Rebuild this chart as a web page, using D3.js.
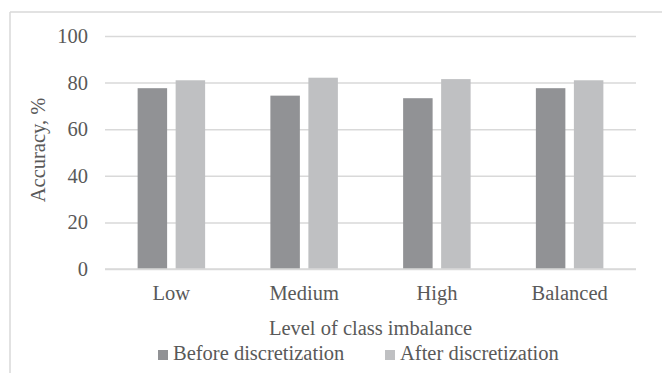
<!DOCTYPE html>
<html>
<head>
<meta charset="utf-8">
<script src="https://cdn.jsdelivr.net/npm/d3@7"></script>
<style>
  html, body { margin: 0; padding: 0; background: #fff; }
</style>
</head>
<body>
<svg id="chart" width="662" height="373"></svg>
<script>
// Accuracy by level of class imbalance
const categories = ["Low", "Medium", "High", "Balanced"];
const seriesNames = ["Before discretization", "After discretization"];
const beforeValues = [77.6, 74.4, 73.3, 77.6];
const afterValues = [81.0, 82.1, 81.5, 81.0];
const yTicks = [0, 20, 40, 60, 80, 100];
const seriesColors = ["#919295", "#bfc0c2"];

const FONT = "'Liberation Serif', 'Times New Roman', serif";
const FONT_SIZE = "20.5px";
const svg = d3.select("#chart");
const textColor = "#595959";
const gridColor = "#d9d9d9";

// Outer chart frame (top and left edges visible)
svg.append("line").attr("x1", 10).attr("x2", 662).attr("y1", 12).attr("y2", 12)
  .attr("stroke", gridColor).attr("stroke-width", 1.5);
svg.append("line").attr("x1", 10).attr("x2", 10).attr("y1", 12).attr("y2", 373)
  .attr("stroke", gridColor).attr("stroke-width", 1.5);

const plot = { left: 105, right: 636, top: 36, bottom: 269 };

const x0 = d3.scaleBand().domain(categories).range([plot.left, plot.right]);
const groupWidth = 67.5;
const groupOffset = (x0.bandwidth() - groupWidth) / 2;
const x1 = d3.scaleBand().domain(seriesNames)
  .range([groupOffset, groupOffset + groupWidth]).paddingInner(0.224);
const y = d3.scaleLinear().domain([0, 100]).range([plot.bottom, plot.top]);

// Gridlines and value axis labels
const yAxis = d3.axisLeft(y).tickValues(yTicks).tickSize(-(plot.right - plot.left)).tickPadding(17);
const yg = svg.append("g").attr("transform", `translate(${plot.left},0)`).call(yAxis);
yg.select(".domain").remove();
yg.selectAll(".tick line").attr("stroke", gridColor).attr("stroke-width", 1.5);
yg.selectAll(".tick text").attr("fill", textColor)
  .style("font-family", FONT).style("font-size", FONT_SIZE);

// Bars
const rows = categories.map((c, i) => ({ category: c, values: [beforeValues[i], afterValues[i]] }));
const groups = svg.append("g").selectAll("g").data(rows).join("g")
  .attr("transform", d => `translate(${x0(d.category)},0)`);
groups.selectAll("rect")
  .data(d => d.values.map((v, j) => ({ series: seriesNames[j], value: v, j })))
  .join("rect")
  .attr("x", d => x1(d.series))
  .attr("width", x1.bandwidth())
  .attr("y", d => y(d.value))
  .attr("height", d => y(0) - y(d.value))
  .attr("fill", d => seriesColors[d.j]);

// Baseline redrawn over the bars
svg.append("line").attr("x1", plot.left).attr("x2", plot.right)
  .attr("y1", y(0)).attr("y2", y(0)).attr("stroke", gridColor).attr("stroke-width", 1.5);

// Category axis labels
const xAxis = d3.axisBottom(x0).tickSize(0).tickPadding(16.5);
const xg = svg.append("g").attr("transform", `translate(0,${plot.bottom})`).call(xAxis);
xg.select(".domain").remove();
xg.selectAll(".tick text").attr("fill", textColor)
  .style("font-family", FONT).style("font-size", FONT_SIZE);

// Axis titles
svg.append("text").attr("x", (plot.left + plot.right) / 2).attr("y", 335)
  .attr("text-anchor", "middle").attr("fill", textColor)
  .style("font-family", FONT).style("font-size", FONT_SIZE)
  .text("Level of class imbalance");
svg.append("text").attr("transform", "translate(45,150) rotate(-90)")
  .attr("text-anchor", "middle").attr("fill", textColor)
  .style("font-family", FONT).style("font-size", FONT_SIZE)
  .text("Accuracy, %");

// Legend
const legendX = [158, 385];
const legend = svg.append("g").selectAll("g").data(seriesNames).join("g")
  .attr("transform", (d, i) => `translate(${legendX[i]},360)`);
legend.append("rect").attr("x", 0).attr("y", -10).attr("width", 10).attr("height", 10)
  .attr("fill", (d, i) => seriesColors[i]);
legend.append("text").attr("x", 15).attr("y", 0).attr("fill", textColor)
  .style("font-family", FONT).style("font-size", FONT_SIZE).text(d => d);
</script>
</body>
</html>
